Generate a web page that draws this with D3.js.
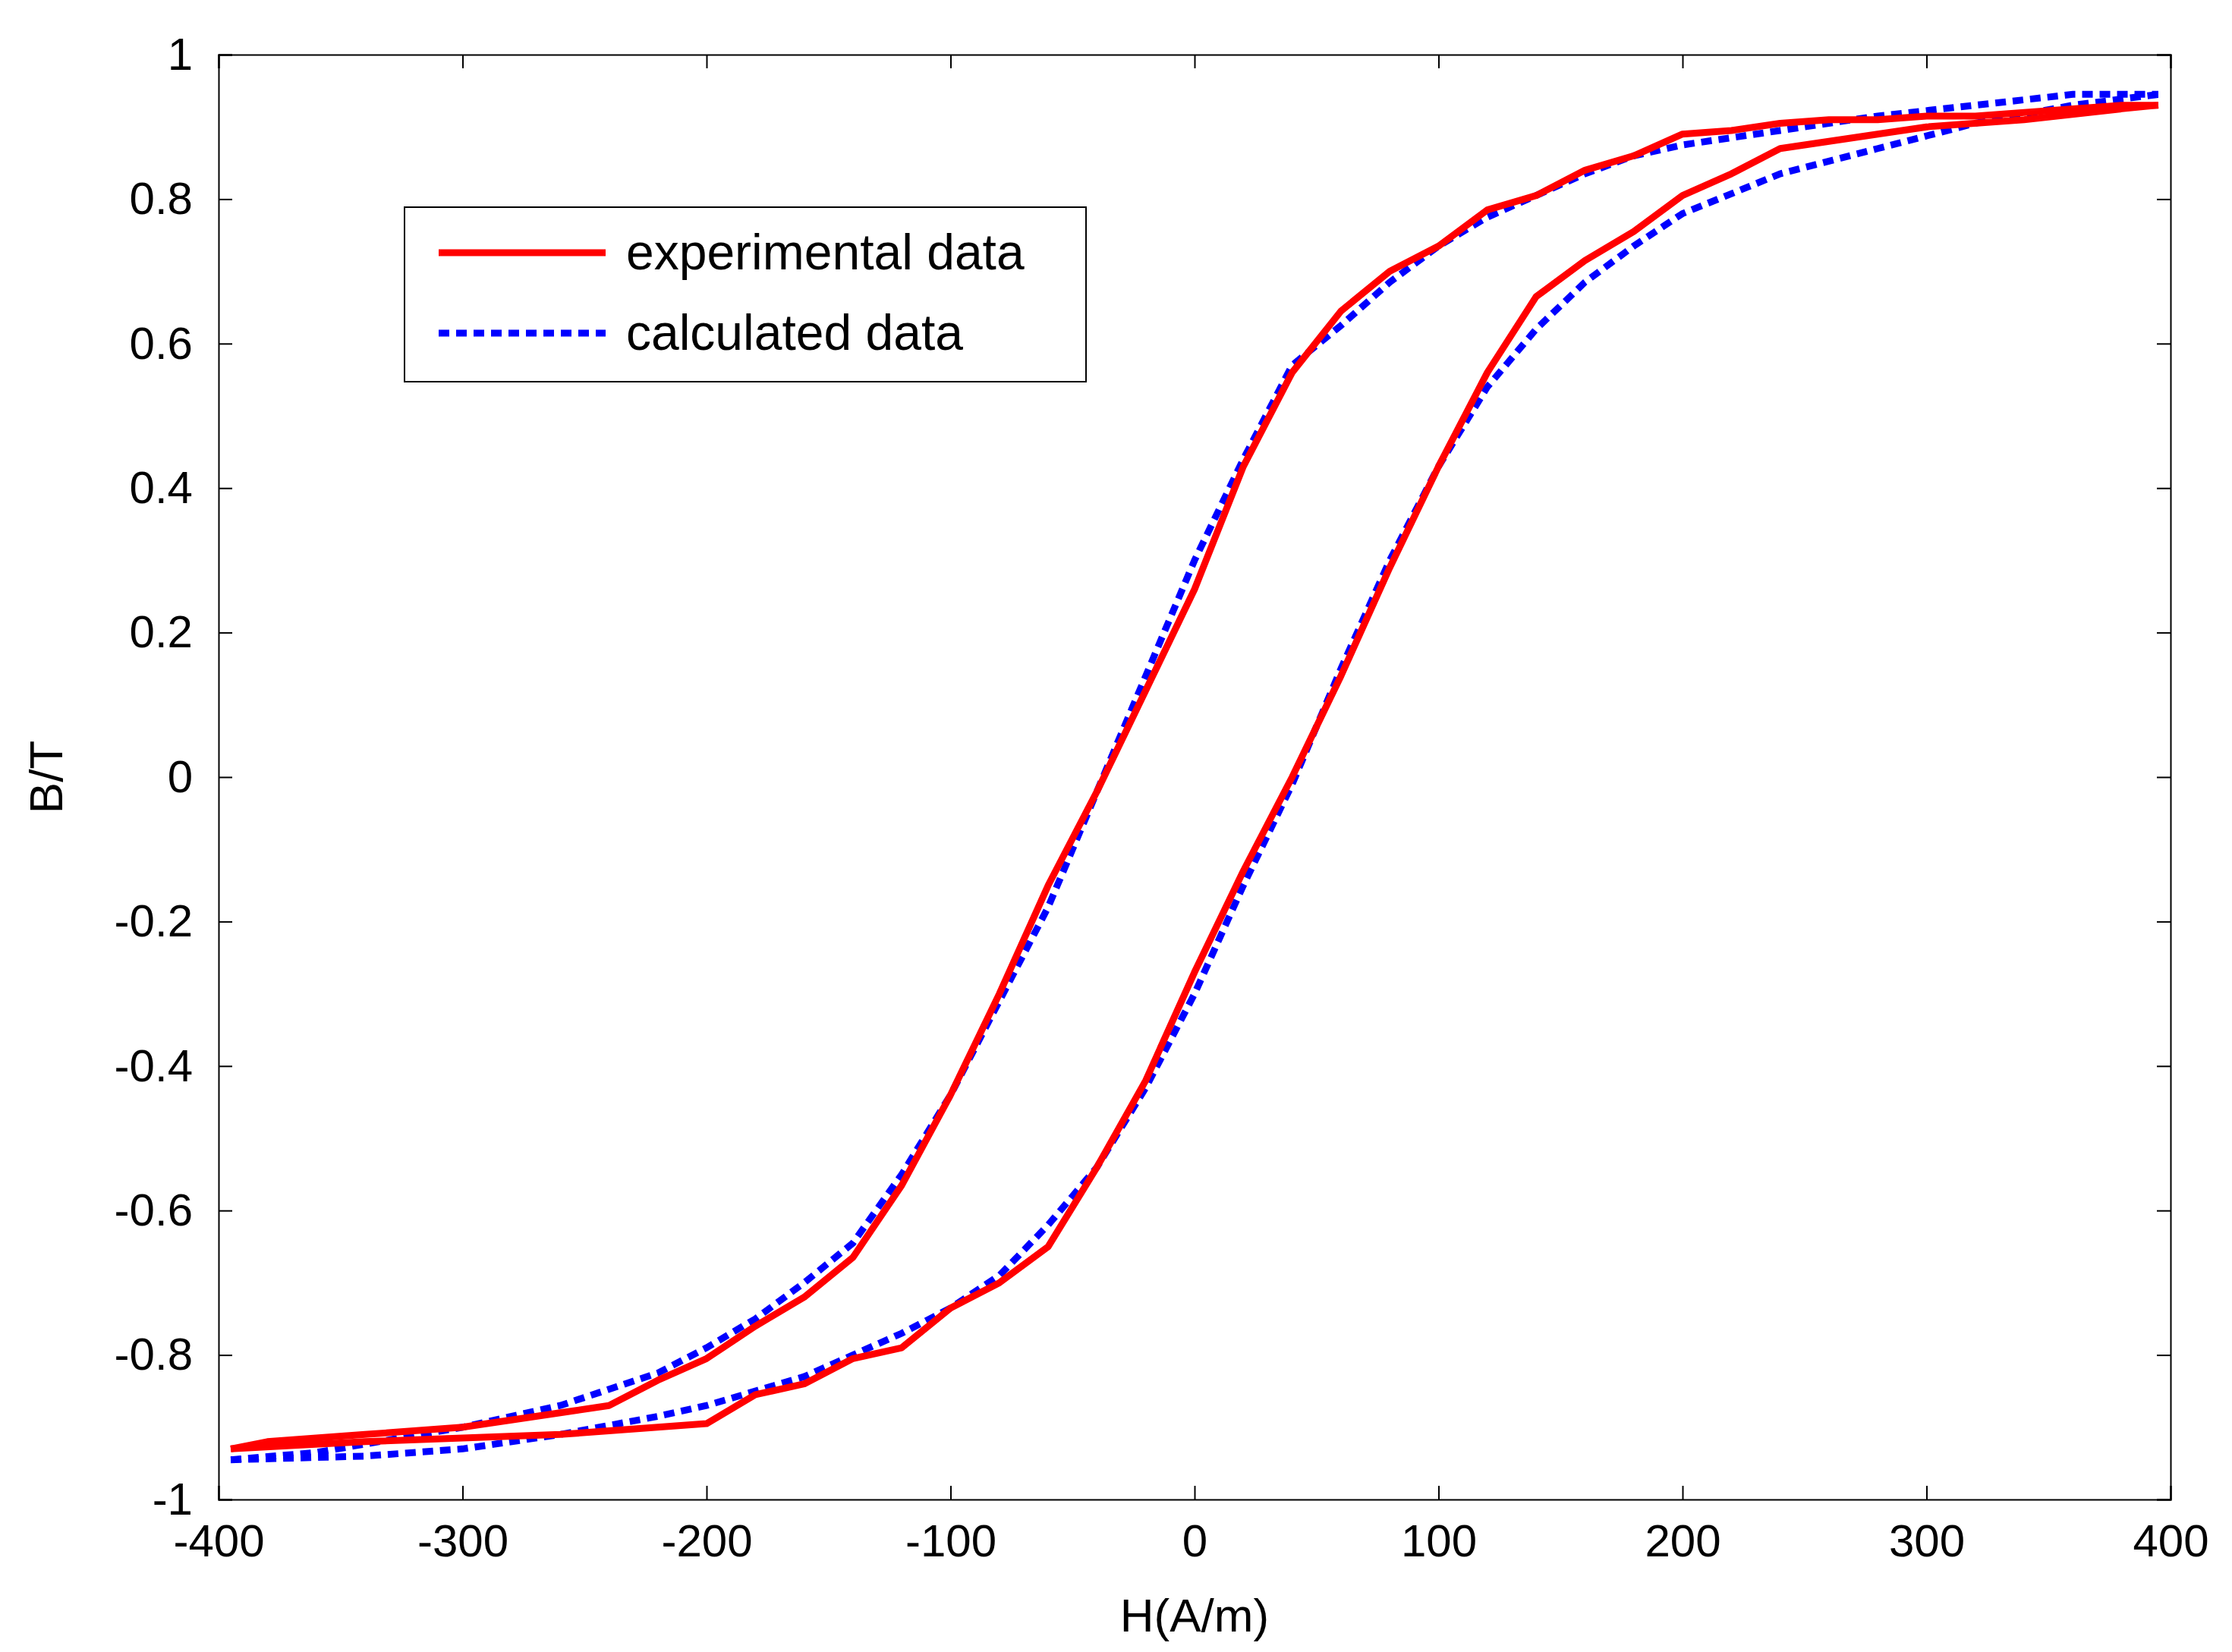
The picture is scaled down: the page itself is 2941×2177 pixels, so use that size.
<!DOCTYPE html>
<html><head><meta charset="utf-8">
<script src="https://cdn.jsdelivr.net/npm/d3@7"></script>
<style>body{margin:0;background:#fff}</style>
</head><body><svg id="chart"></svg>
<script>
// experimental loop: descending (upper) branch and ascending (lower) branch
var expUpperH = [-395,-380,-340,-300,-280,-260,-240,-220,-200,-180,-160,-140,-120,-100,-80,-60,-40,-20,0,20,40,60,80,100,120,140,160,180,200,220,240,260,280,300,320,340,360,380,395];
var expUpperB = [-0.93,-0.92,-0.91,-0.90,-0.89,-0.88,-0.87,-0.835,-0.805,-0.76,-0.72,-0.665,-0.565,-0.44,-0.30,-0.15,-0.02,0.12,0.26,0.43,0.56,0.645,0.70,0.735,0.785,0.805,0.84,0.86,0.89,0.895,0.905,0.91,0.91,0.915,0.915,0.92,0.925,0.93,0.93];
var expLowerH = [-395,-340,-300,-260,-240,-220,-200,-180,-160,-140,-120,-100,-80,-60,-40,-20,0,20,40,60,80,100,120,140,160,180,200,220,240,260,280,300,340,380,395];
var expLowerB = [-0.93,-0.92,-0.915,-0.91,-0.905,-0.90,-0.895,-0.855,-0.84,-0.805,-0.79,-0.735,-0.70,-0.65,-0.54,-0.42,-0.27,-0.13,0.0,0.14,0.29,0.43,0.56,0.665,0.715,0.755,0.805,0.835,0.87,0.88,0.89,0.90,0.91,0.925,0.93];
// calculated loop
var calcUpperH = [-395,-360,-300,-260,-220,-200,-180,-160,-140,-120,-100,-80,-60,-40,-20,0,20,40,60,80,100,120,140,160,180,200,240,280,320,360,395];
var calcUpperB = [-0.945,-0.935,-0.90,-0.87,-0.825,-0.79,-0.75,-0.70,-0.645,-0.55,-0.44,-0.31,-0.18,-0.02,0.14,0.30,0.44,0.57,0.625,0.685,0.735,0.775,0.805,0.835,0.86,0.875,0.895,0.915,0.93,0.945,0.945];
var calcLowerH = [-395,-340,-300,-260,-220,-200,-160,-140,-120,-100,-80,-60,-40,-20,0,20,40,60,80,100,120,140,160,180,200,240,280,320,360,395];
var calcLowerB = [-0.945,-0.94,-0.93,-0.91,-0.885,-0.87,-0.83,-0.80,-0.77,-0.735,-0.69,-0.62,-0.54,-0.43,-0.30,-0.15,-0.01,0.15,0.30,0.43,0.54,0.62,0.685,0.735,0.78,0.835,0.87,0.905,0.93,0.945];
var xTicks = [-400,-300,-200,-100,0,100,200,300,400];
var yTicks = [-1,-0.8,-0.6,-0.4,-0.2,0,0.2,0.4,0.6,0.8,1];

var W = 2941, H = 2177;
var m = {left: 288, right: 81, top: 72, bottom: 201};
var iw = W - m.left - m.right, ih = H - m.top - m.bottom;
var svg = d3.select("#chart").attr("width", W).attr("height", H);
var g = svg.append("g").attr("transform", "translate(" + m.left + "," + m.top + ")");
var x = d3.scaleLinear().domain([-400, 400]).range([0, iw]);
var y = d3.scaleLinear().domain([-1, 1]).range([ih, 0]);
var font = "Arial, 'Liberation Sans', sans-serif";

function fmt(d) { return d3.format("")(+d.toFixed(1)).replace("−", "-"); }

g.append("g").attr("transform", "translate(0," + ih + ")")
    .call(d3.axisBottom(x).tickValues(xTicks).tickSize(-18).tickPadding(30).tickFormat(fmt));
g.append("g").call(d3.axisTop(x).tickValues(xTicks).tickSize(-18).tickFormat(""));
g.append("g").call(d3.axisLeft(y).tickValues(yTicks).tickSize(-18).tickPadding(34).tickFormat(fmt));
g.append("g").attr("transform", "translate(" + iw + ",0)")
    .call(d3.axisRight(y).tickValues(yTicks).tickSize(-18).tickFormat(""));
g.selectAll(".domain").attr("stroke", "#000").attr("stroke-width", 2);
g.selectAll(".tick line").attr("stroke", "#000").attr("stroke-width", 2);
g.selectAll(".tick text").attr("font-family", font).attr("font-size", 60).attr("fill", "#000");
g.selectAll(".tick text").filter(function() { return this.getAttribute("dy") === "0.71em"; }).attr("dy", "0.75em");

var line = d3.line().x(d => x(d[0])).y(d => y(d[1]));
function pairs(a, b) { return a.map((v, i) => [v, b[i]]); }

[[calcUpperH, calcUpperB], [calcLowerH, calcLowerB]].forEach(function(s) {
    g.append("path").datum(pairs(s[0], s[1])).attr("d", line)
        .attr("fill", "none").attr("stroke", "#0000ff").attr("stroke-width", 9)
        .attr("stroke-dasharray", "14,9");
});
[[expUpperH, expUpperB], [expLowerH, expLowerB]].forEach(function(s) {
    g.append("path").datum(pairs(s[0], s[1])).attr("d", line)
        .attr("fill", "none").attr("stroke", "#ff0000").attr("stroke-width", 9)
        .attr("stroke-linejoin", "round");
});

svg.append("text").attr("x", m.left + iw / 2).attr("y", 2150).attr("text-anchor", "middle")
    .attr("font-family", font).attr("font-size", 62).text("H(A/m)");
svg.append("text").attr("transform", "translate(82," + (m.top + ih / 2) + ") rotate(-90)")
    .attr("text-anchor", "middle").attr("font-family", font).attr("font-size", 62).text("B/T");

// legend
var lg = svg.append("g").attr("transform", "translate(533,273)");
lg.append("rect").attr("width", 898).attr("height", 230).attr("fill", "#fff")
    .attr("stroke", "#000").attr("stroke-width", 2);
var items = [["experimental data", "#ff0000", null], ["calculated data", "#0000ff", "14,9"]];
items.forEach(function(it, i) {
    var yy = 60 + i * 106;
    lg.append("line").attr("x1", 45).attr("x2", 265).attr("y1", yy).attr("y2", yy)
        .attr("stroke", it[1]).attr("stroke-width", 9).attr("stroke-dasharray", it[2]);
    lg.append("text").attr("x", 292).attr("y", yy + 22).attr("font-family", font)
        .attr("font-size", 66).text(it[0]);
});
</script></body></html>
